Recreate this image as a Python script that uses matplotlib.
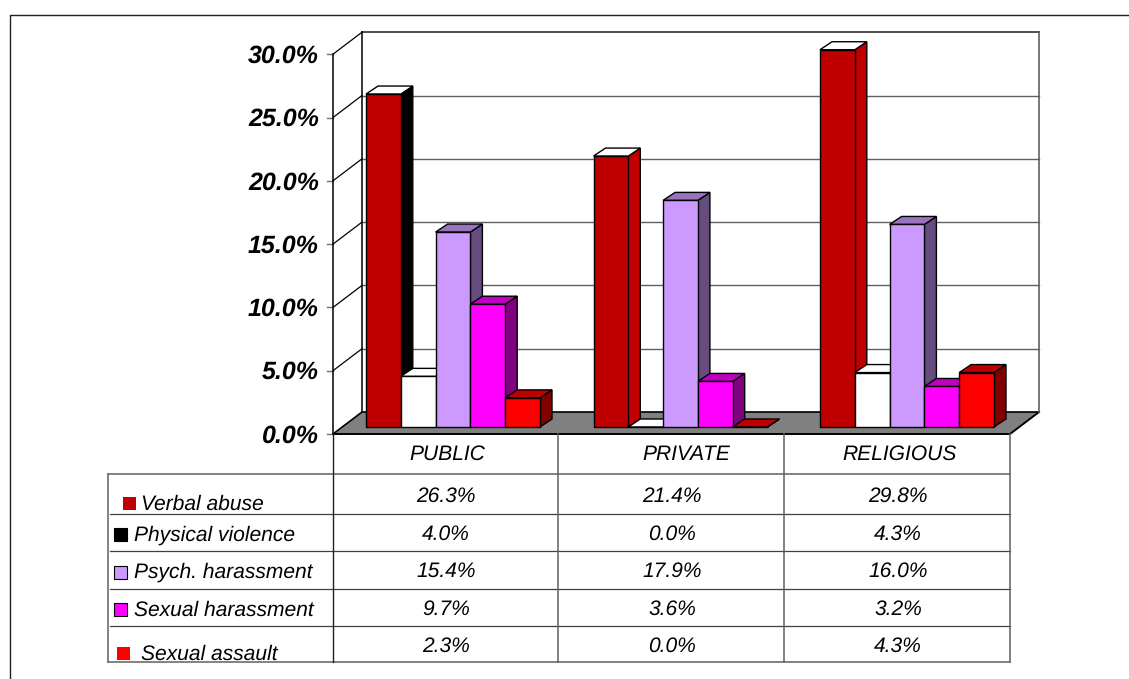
#!/usr/bin/env python3
import matplotlib
matplotlib.use("Agg")
import matplotlib.pyplot as plt
from matplotlib.patches import Polygon, Rectangle

categories = ["PUBLIC", "PRIVATE", "RELIGIOUS"]
series_names = ["Verbal abuse", "Physical violence", "Psych. harassment",
                "Sexual harassment", "Sexual assault"]
verbal = [26.3, 21.4, 29.8]
physical = [4.0, 0.0, 4.3]
psych = [15.4, 17.9, 16.0]
sexual_har = [9.7, 3.6, 3.2]
sexual_ass = [2.3, 0.0, 4.3]
y_ticks = [0, 5, 10, 15, 20, 25, 30]

plt.rcParams['font.family'] = ['Liberation Sans', 'DejaVu Sans']
plt.rcParams['text.hinting'] = 'no_hinting'
plt.rcParams['text.hinting_factor'] = 1

fig = plt.figure(figsize=(11.29, 6.79), dpi=100)
ax = fig.add_axes([0, 0, 1, 1])
ax.set_xlim(0, 1129)
ax.set_ylim(679, 0)
ax.axis('off')

# layout in pixels
X0, X1 = 333, 1010
Y0 = 434
PX = 12.66          # px per percent
DX, DY = 29, 22     # wall depth
BASE = 427
BDX, BDY = 12, 8    # bar depth
GREY = '#808080'
FS = 15.4


def ypos(v):
    return Y0 - v * PX


def draw_bar(x, w, v, front, top, side):
    h = v * PX
    yt = BASE - h
    kw = dict(edgecolor='black', linewidth=1.0, joinstyle='miter')
    ax.add_patch(Polygon([(x + w, BASE), (x + w + BDX, BASE - BDY),
                          (x + w + BDX, yt - BDY), (x + w, yt)],
                         facecolor=side, zorder=4, **kw))
    ax.add_patch(Polygon([(x, yt), (x + BDX, yt - BDY), (x + w + BDX, yt - BDY),
                          (x + w, yt)], facecolor=top, zorder=4, **kw))
    ax.add_patch(Rectangle((x, yt), w, h, facecolor=front, zorder=4, **kw))


# frame round the picture
ax.plot([1129, 10, 10], [15, 15, 679], color='#202020', lw=1.0)

# floor
ax.add_patch(Polygon([(X0, Y0), (X0 + DX, Y0 - DY), (X1 + DX, Y0 - DY), (X1, Y0)],
                     facecolor=GREY, edgecolor='none', zorder=1))
ax.plot([X0, X0 + DX, X1 + DX], [Y0, Y0 - DY, Y0 - DY], color='black', lw=1.2, zorder=2)
ax.plot([X0, X1, X1 + DX], [Y0, Y0, Y0 - DY], color='black', lw=1.4, zorder=2)

# gridlines, side wall and ticks
for t in y_ticks:
    y = ypos(t)
    if t > 0:
        ax.plot([X0, X0 + DX], [y, y - DY], color='black', lw=0.9, zorder=2)
        ax.plot([X0 + DX, X1 + DX], [y - DY, y - DY],
                color='#404040' if t == 30 else '#606060',
                lw=1.3 if t == 30 else 1.0, zorder=2)
    ax.plot([X0 - 6, X0], [y, y], color='#707070', lw=1.0, zorder=2)
    ax.text(319, y + 8.5, f"{t:.1f}%", ha='right', va='baseline', fontsize=18,
            fontweight='bold', fontstyle='italic', color='black')
ax.plot([X0, X0], [ypos(30), Y0], color='black', lw=1.1, zorder=2)
ax.plot([X0 + DX, X0 + DX], [ypos(30) - DY, Y0 - DY], color='black', lw=1.1, zorder=2)
ax.plot([X1 + DX, X1 + DX], [ypos(30) - DY, Y0 - DY], color='#606060', lw=1.2, zorder=2)

# bars
starts = [366, 593.5, 820]
bar_w = 34.8
series = [verbal, physical, psych, sexual_har, sexual_ass]
fronts = ['#C00000', '#FFFFFF', '#CC99FF', '#FF00FF', '#FF0000']
tops = ['#FFFFFF', '#FFFFFF', '#9973BF', '#BF00BF', '#BF0000']
sides = ['#000000', '#FFFFFF', '#664D80', '#800080', '#800000']
verbal_sides = ['#000000', '#C00000', '#C00000']
for c, x0 in enumerate(starts):
    for s, vals in enumerate(series):
        side = verbal_sides[c] if s == 0 else sides[s]
        draw_bar(x0 + s * bar_w, bar_w, vals[c], fronts[s], tops[s], side)

# data table
cols = [X0, 558, 784, X1]
rows = [474, 513.5, 551, 588.5, 626, 662]
ax.plot([108, X1], [rows[0], rows[0]], color='#606060', lw=1.1)
ax.plot([108, X1], [rows[-1], rows[-1]], color='#606060', lw=1.1)
for y in rows[1:-1]:
    ax.plot([110, X1], [y, y], color='#404040', lw=0.9)
ax.plot([108, 108], [rows[0], rows[-1]], color='#606060', lw=1.1)
ax.plot([X0, X0], [Y0, rows[-1]], color='#202020', lw=1.0)
for x in cols[1:]:
    ax.plot([x, x], [Y0, rows[-1]], color='#606060', lw=1.1)

cat_x = [447, 686, 900]
val_x = [446, 672, 898]
val_base = [502, 540, 577, 614.5, 652]
for c, name in enumerate(categories):
    ax.text(cat_x[c], 460, name, ha='center', va='baseline', fontsize=FS, fontstyle='italic')
    for r, vals in enumerate(series):
        ax.text(val_x[c], val_base[r], f"{vals[c]:.1f}%", ha='center', va='baseline',
                fontsize=FS, fontstyle='italic')

# legend keys and names sit in the table's first column
key_x = [123, 113.5, 113.5, 113.5, 116.5]
key_y = [497, 528, 566, 603, 647]
txt_x = [141, 134, 134, 134, 141]
txt_y = [510, 541, 578, 616, 660]
key_edges = ['none', 'black', 'black', 'black', 'none']
for i, name in enumerate(series_names):
    col = '#000000' if i == 1 else fronts[i]
    ax.add_patch(Rectangle((key_x[i], key_y[i]), 13, 12.5, facecolor=col,
                           edgecolor=key_edges[i], linewidth=0.8))
    ax.text(txt_x[i], txt_y[i], name, ha='left', va='baseline', fontsize=FS,
            fontstyle='italic')

fig.savefig("out.png", dpi=100)
